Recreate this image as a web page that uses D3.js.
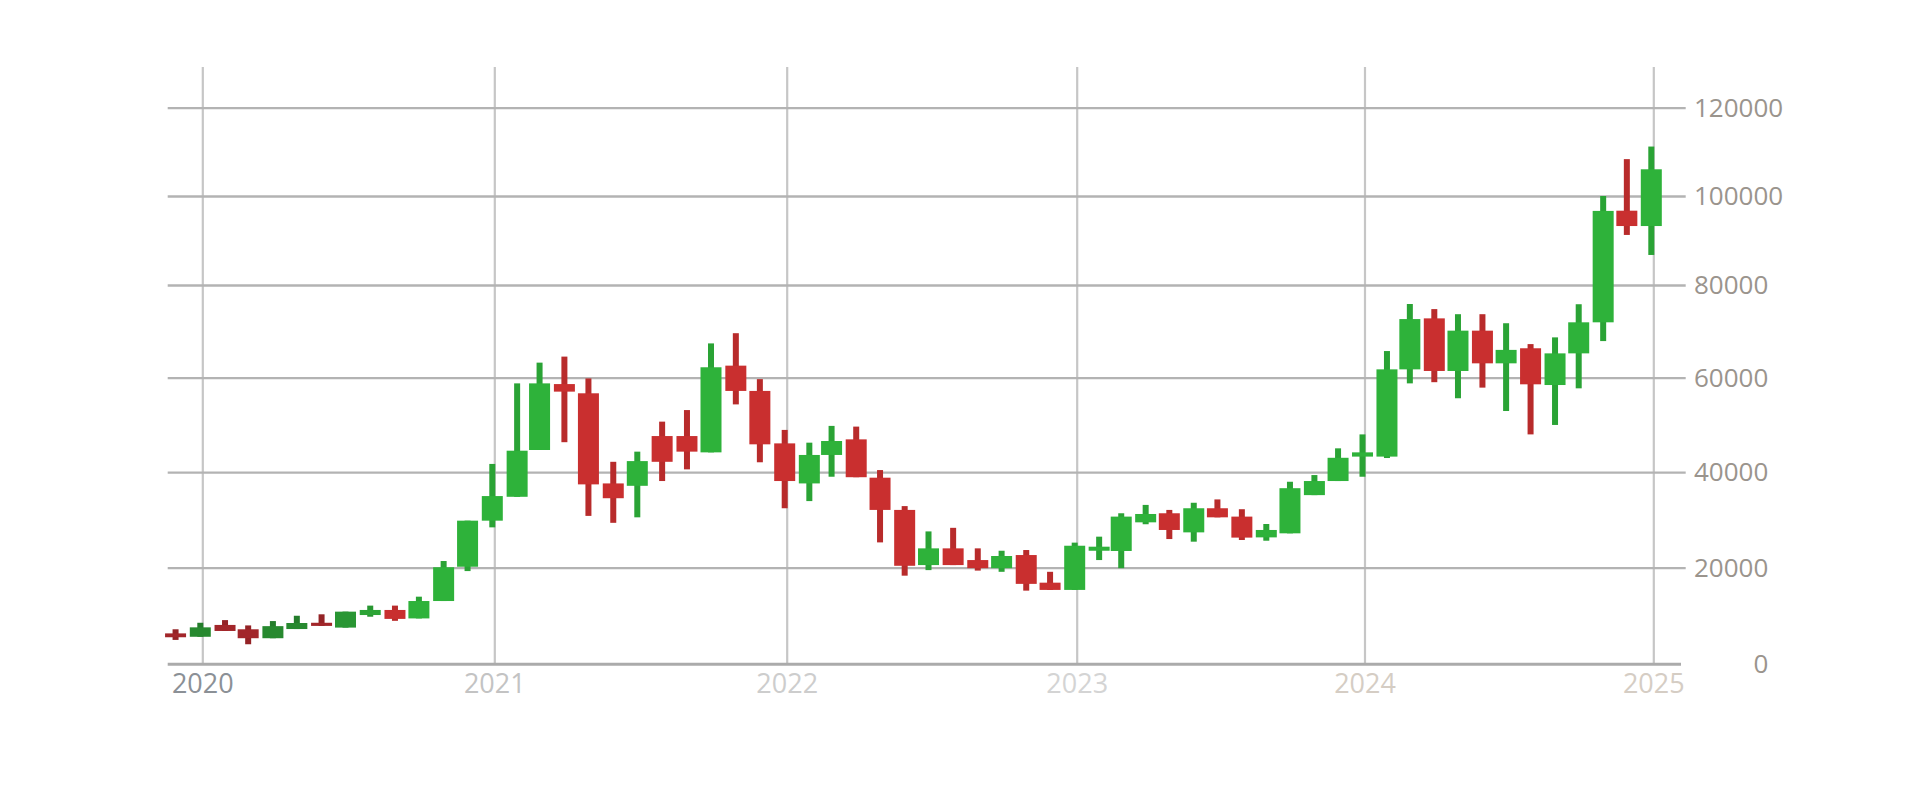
<!DOCTYPE html>
<html>
<head>
<meta charset="utf-8">
<script src="https://cdn.jsdelivr.net/npm/d3@7"></script>
<style>
html, body { margin: 0; padding: 0; background: #ffffff; overflow: hidden; }
svg { display: block; }
</style>
</head>
<body>
<svg id="chart" width="1920" height="805"></svg>
<script>
// ---- data ----
const months = [
  "2019-12",
  "2020-01","2020-02","2020-03","2020-04","2020-05","2020-06","2020-07","2020-08","2020-09","2020-10","2020-11","2020-12",
  "2021-01","2021-02","2021-03","2021-04","2021-05","2021-06","2021-07","2021-08","2021-09","2021-10","2021-11","2021-12",
  "2022-01","2022-02","2022-03","2022-04","2022-05","2022-06","2022-07","2022-08","2022-09","2022-10","2022-11","2022-12",
  "2023-01","2023-02","2023-03","2023-04","2023-05","2023-06","2023-07","2023-08","2023-09","2023-10","2023-11","2023-12",
  "2024-01","2024-02","2024-03","2024-04","2024-05","2024-06","2024-07","2024-08","2024-09","2024-10","2024-11","2024-12",
  "2025-01"
];
const open = [
  6400,
  5700, 8150, 7250, 5400, 7300, 8600, 7600, 10200, 11250, 9500, 13100, 20200,
  29850, 34850, 44700, 58650, 56700, 37650, 37150, 47650, 47650, 44200, 62600, 57200,
  46100, 37650, 43650, 46950, 38850, 32100, 20550, 24050, 21600, 19900, 22650, 16900,
  15400, 23550, 23500, 29500, 31400, 27400, 32450, 30700, 26350, 27200, 35200, 38150,
  43300, 43300, 61800, 72800, 61450, 70150, 63100, 66350, 58450, 65250, 71950, 96700,
  93250
];
const high = [
  7250,
  8600, 9150, 8050, 8950, 10050, 10350, 10900, 12150, 12150, 14000, 21400, 29850,
  41750, 58800, 63250, 64550, 59850, 42200, 44350, 50700, 53150, 67400, 69600, 59700,
  48950, 46250, 49800, 49650, 40450, 32900, 27600, 28350, 24050, 23550, 23700, 19150,
  25250, 26500, 31400, 33150, 32100, 33600, 34300, 32250, 29150, 38000, 39400, 45050,
  48000, 65750, 75900, 74800, 73700, 73700, 71750, 67250, 68700, 75850, 100000, 108350,
  111200
];
const low = [
  5050,
  5700, 6900, 4150, 5400, 7300, 7950, 7600, 9850, 9000, 9500, 13100, 19300,
  28450, 34850, 44700, 46350, 30850, 29400, 30550, 38150, 40600, 44200, 54350, 42100,
  32450, 33950, 39050, 38950, 25300, 18350, 19500, 20550, 19400, 19150, 15250, 15400,
  15400, 21600, 19900, 29100, 26000, 25450, 30550, 25800, 25650, 27200, 35200, 38150,
  39050, 43000, 58800, 59050, 55650, 57900, 52950, 48000, 50000, 57750, 67900, 91250,
  86750
];
const close = [
  5600,
  7650, 6900, 5400, 7900, 8550, 7950, 10900, 11250, 9400, 13100, 20100, 29850,
  35000, 44550, 58800, 57050, 37450, 34550, 42350, 42200, 44350, 62250, 57200, 45900,
  38150, 43650, 46600, 38950, 32100, 20400, 24050, 20550, 19900, 22450, 16650, 15400,
  24600, 24400, 30700, 31250, 27900, 32450, 30550, 26300, 27900, 36650, 38150, 43050,
  44200, 61800, 72650, 61450, 70150, 63100, 66000, 58600, 65250, 71950, 96650, 93250,
  106050
];
const yTicks = [0, 20000, 40000, 60000, 80000, 100000, 120000];
const yearTicks = ["2020", "2021", "2022", "2023", "2024", "2025"];

// ---- build table ----
const parseMonth = d3.utcParse("%Y-%m");
const candles = months.map((m, i) => ({
  date: parseMonth(m), open: open[i], high: high[i], low: low[i], close: close[i]
}));
const yearDates = yearTicks.map(y => d3.utcParse("%Y")(y));

// ---- layout ----
const svg = d3.select("#chart");
svg.append("rect").attr("width", 1920).attr("height", 805).attr("fill", "#ffffff");

const plotLeft = 167.7, plotRight = 1685.7, plotTop = 67;
const x = d3.scaleUtc()
  .domain(yearDates)
  .range([202.3, 494.3, 786.7, 1076.7, 1364.5, 1653.3]);
const y = d3.scaleLinear()
  .domain(yTicks)
  .range([664.3, 567.7, 472.2, 377.7, 285, 196, 107.7]);
const baseY = y(0);

// vertical grid lines
const vGrid = svg.append("g")
  .attr("transform", `translate(0,${baseY})`)
  .call(d3.axisBottom(x).tickValues(yearDates).tickSize(-(baseY - plotTop)).tickFormat(""));
vGrid.select(".domain").remove();
vGrid.selectAll(".tick line").attr("stroke", "#c6c6c6").attr("stroke-width", 2.2);

// horizontal grid lines
const hGrid = svg.append("g")
  .attr("transform", `translate(${plotLeft},0)`)
  .call(d3.axisLeft(y).tickValues(yTicks.filter(v => v > 0)).tickSize(-(plotRight - plotLeft)).tickFormat(""));
hGrid.select(".domain").remove();
hGrid.selectAll(".tick line").attr("stroke", "#b3b3b3").attr("stroke-width", 2.3);

// base axis line
svg.append("line")
  .attr("x1", plotLeft).attr("x2", 1681)
  .attr("y1", baseY).attr("y2", baseY)
  .attr("stroke", "#ababab").attr("stroke-width", 3);

// x labels
const xLabelColors = ["#8b9096", "#c3c3c3", "#cdcdcd", "#d4d4d4", "#d5cdc4", "#d5cdc4"];
const xAxis = svg.append("g")
  .attr("transform", `translate(0,${baseY})`)
  .call(d3.axisBottom(x).tickValues(yearDates).tickSize(0).tickPadding(10).tickFormat(d3.utcFormat("%Y")));
xAxis.select(".domain").remove();
xAxis.selectAll(".tick text")
  .attr("font-family", "'Open Sans', 'Noto Sans', sans-serif")
  .attr("font-size", 27)
  .attr("fill", (d, i) => xLabelColors[i]);

// y labels (right side)
const yAxis = svg.append("g")
  .attr("transform", `translate(1694,0)`)
  .call(d3.axisRight(y).tickValues(yTicks).tickSize(0).tickPadding(0).tickFormat(d3.format("d")));
yAxis.select(".domain").remove();
yAxis.selectAll(".tick text")
  .attr("font-family", "'Open Sans', 'Noto Sans', sans-serif")
  .attr("font-size", 26)
  .attr("fill", "#9a948d");
// the "0" label sits right-aligned with the five-digit labels
const ref = yAxis.selectAll(".tick text").filter(d => d === 80000).node();
const refRight = ref.getBBox().x + ref.getBBox().width;
yAxis.selectAll(".tick text").filter(d => d === 0)
  .attr("text-anchor", "end").attr("x", refRight);

// candles
const tone = d3.scaleUtc()
  .domain([parseMonth("2020-06"), parseMonth("2020-09")])
  .range([0, 1]).clamp(true);
const upCol = d3.interpolateRgb("#27892f", "#2eb23a");
const downCol = d3.interpolateRgb("#a2262a", "#c92f2f");
const bodyW = 21, wickW = 6, shift = -2;

const g = svg.append("g");
const c = g.selectAll("g.candle").data(candles).join("g").attr("class", "candle");
c.append("rect")
  .attr("x", d => x(d.date) + shift - wickW / 2)
  .attr("width", wickW)
  .attr("y", d => y(d.high))
  .attr("height", d => Math.max(1, y(d.low) - y(d.high)))
  .attr("fill", d => d3.color(d.close >= d.open ? upCol(tone(d.date)) : downCol(tone(d.date))).darker(0.25));
c.append("rect")
  .attr("x", d => x(d.date) + shift - bodyW / 2)
  .attr("width", bodyW)
  .attr("y", d => y(Math.max(d.open, d.close)))
  .attr("height", d => Math.max(3, Math.abs(y(d.open) - y(d.close))))
  .attr("fill", d => d.close >= d.open ? upCol(tone(d.date)) : downCol(tone(d.date)));
</script>
</body>
</html>
